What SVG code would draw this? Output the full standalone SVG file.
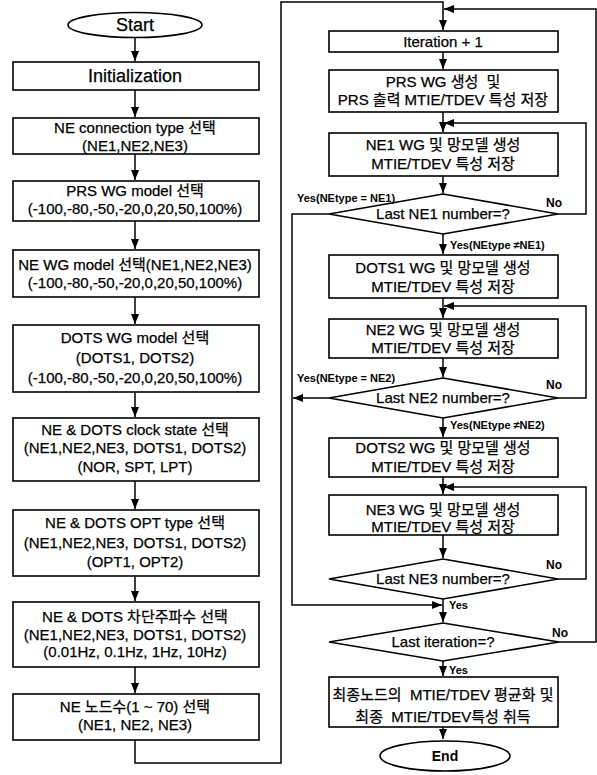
<svg xmlns="http://www.w3.org/2000/svg" width="597" height="775" viewBox="0 0 597 775">
<style>
.box{fill:#fff;stroke:#000;stroke-width:1.6}
.ln{fill:none;stroke:#000;stroke-width:1.5}
text{font-family:"Liberation Sans","Noto Sans CJK KR",sans-serif;font-size:15px;fill:#000;stroke:#000;stroke-width:0.25;text-anchor:middle}
.lb{font-size:11px;font-weight:bold;text-anchor:start;stroke:none}
.big{font-size:18px}
</style>
<defs>
<marker id="ah" viewBox="0 0 10 8" refX="10" refY="4" markerWidth="10" markerHeight="8" markerUnits="userSpaceOnUse" orient="auto">
<path d="M0,0 L10,4 L0,8 Z" fill="#000"/>
</marker>
</defs>

<g id="connectors">
<path class="ln" d="M135,38 V61" marker-end="url(#ah)"/>
<path class="ln" d="M135,90 V117" marker-end="url(#ah)"/>
<path class="ln" d="M135,154 V180" marker-end="url(#ah)"/>
<path class="ln" d="M135,221 V249" marker-end="url(#ah)"/>
<path class="ln" d="M135,297 V324" marker-end="url(#ah)"/>
<path class="ln" d="M135,392 V417" marker-end="url(#ah)"/>
<path class="ln" d="M135,481 V509" marker-end="url(#ah)"/>
<path class="ln" d="M135,576 V601" marker-end="url(#ah)"/>
<path class="ln" d="M135,667 V693" marker-end="url(#ah)"/>
<path class="ln" d="M135,740 V763 H281 V2 H443 V30" marker-end="url(#ah)"/>
<path class="ln" d="M443,52 V69" marker-end="url(#ah)"/>
<path class="ln" d="M443,112 V132" marker-end="url(#ah)"/>
<path class="ln" d="M443,176 V193" marker-end="url(#ah)"/>
<path class="ln" d="M443,234 V254" marker-end="url(#ah)"/>
<path class="ln" d="M443,298 V318" marker-end="url(#ah)"/>
<path class="ln" d="M443,358 V377" marker-end="url(#ah)"/>
<path class="ln" d="M443,418 V437" marker-end="url(#ah)"/>
<path class="ln" d="M443,477 V494" marker-end="url(#ah)"/>
<path class="ln" d="M443,535 V558" marker-end="url(#ah)"/>
<path class="ln" d="M443,599 V622" marker-end="url(#ah)"/>
<path class="ln" d="M443,661 V676" marker-end="url(#ah)"/>
<path class="ln" d="M443,727 V739" marker-end="url(#ah)"/>
<path class="ln" d="M558,214 H586 V123 H444" marker-end="url(#ah)"/>
<path class="ln" d="M558,398 H586 V306 H444" marker-end="url(#ah)"/>
<path class="ln" d="M558,579 H586 V487 H444" marker-end="url(#ah)"/>
<path class="ln" d="M559,642 H596 V9 H444" marker-end="url(#ah)"/>
<path class="ln" d="M329,214 H292 V605 H442" marker-end="url(#ah)"/>
<path class="ln" d="M329,398 H293" marker-end="url(#ah)"/>
</g>

<g id="start"><ellipse class="box" cx="135" cy="25" rx="67" ry="12.5"/><text class="big" x="135" y="31">Start</text></g>
<g id="init"><rect class="box" x="13" y="62" width="246" height="28"/><text class="big" x="135" y="82">Initialization</text></g>
<g id="ne-conn"><rect class="box" x="13" y="118" width="246" height="36"/><text x="135" y="133">NE connection type 선택</text><text x="135" y="151">(NE1,NE2,NE3)</text></g>
<g id="prs-wg-model"><rect class="box" x="13" y="181" width="246" height="40"/><text x="135" y="196">PRS WG model 선택</text><text x="135" y="214">(-100,-80,-50,-20,0,20,50,100%)</text></g>
<g id="ne-wg-model"><rect class="box" x="13" y="250" width="246" height="47"/><text x="135" y="270">NE WG model 선택(NE1,NE2,NE3)</text><text x="135" y="288">(-100,-80,-50,-20,0,20,50,100%)</text></g>
<g id="dots-wg-model"><rect class="box" x="13" y="325" width="246" height="67"/><text x="135" y="343">DOTS WG model 선택</text><text x="135" y="363">(DOTS1, DOTS2)</text><text x="135" y="383">(-100,-80,-50,-20,0,20,50,100%)</text></g>
<g id="clock-state"><rect class="box" x="13" y="418" width="246" height="63"/><text x="135" y="435">NE &amp; DOTS clock state 선택</text><text x="135" y="453">(NE1,NE2,NE3, DOTS1, DOTS2)</text><text x="135" y="472">(NOR, SPT, LPT)</text></g>
<g id="opt-type"><rect class="box" x="13" y="510" width="246" height="66"/><text x="135" y="528">NE &amp; DOTS OPT type 선택</text><text x="135" y="548">(NE1,NE2,NE3, DOTS1, DOTS2)</text><text x="135" y="567">(OPT1, OPT2)</text></g>
<g id="cutoff"><rect class="box" x="13" y="602" width="246" height="65"/><text x="135" y="622">NE &amp; DOTS 차단주파수 선택</text><text x="135" y="640">(NE1,NE2,NE3, DOTS1, DOTS2)</text><text x="135" y="657">(0.01Hz, 0.1Hz, 1Hz, 10Hz)</text></g>
<g id="node-count"><rect class="box" x="13" y="694" width="246" height="46"/><text x="135" y="712">NE 노드수(1 ~ 70) 선택</text><text x="135" y="730">(NE1, NE2, NE3)</text></g>

<g id="iteration"><rect class="box" x="329" y="31" width="229" height="21"/><text x="443" y="47">Iteration + 1</text></g>
<g id="prs-wg"><rect class="box" x="329" y="70" width="229" height="42"/><text x="443" y="87" xml:space="preserve">PRS WG 생성  및</text><text x="443" y="105">PRS 출력 MTIE/TDEV 특성 저장</text></g>
<g id="ne1-wg"><rect class="box" x="329" y="133" width="229" height="43"/><text x="443" y="150">NE1 WG 및 망모델 생성</text><text x="443" y="169">MTIE/TDEV 특성 저장</text></g>
<g id="dec-ne1"><polygon class="box" points="443,194 558,214 443,234 329,214"/><text x="443" y="219">Last NE1 number=?</text></g>
<g id="dots1-wg"><rect class="box" x="329" y="255" width="229" height="43"/><text x="443" y="273">DOTS1 WG 및 망모델 생성</text><text x="443" y="292">MTIE/TDEV 특성 저장</text></g>
<g id="ne2-wg"><rect class="box" x="329" y="319" width="229" height="39"/><text x="443" y="335">NE2 WG 및 망모델 생성</text><text x="443" y="353">MTIE/TDEV 특성 저장</text></g>
<g id="dec-ne2"><polygon class="box" points="443,378 558,398 443,418 329,398"/><text x="443" y="403">Last NE2 number=?</text></g>
<g id="dots2-wg"><rect class="box" x="329" y="438" width="229" height="39"/><text x="443" y="453">DOTS2 WG 및 망모델 생성</text><text x="443" y="472">MTIE/TDEV 특성 저장</text></g>
<g id="ne3-wg"><rect class="box" x="329" y="495" width="229" height="40"/><text x="443" y="515">NE3 WG 및 망모델 생성</text><text x="443" y="532">MTIE/TDEV 특성 저장</text></g>
<g id="dec-ne3"><polygon class="box" points="443,559 558,579 443,599 329,579"/><text x="443" y="584">Last NE3 number=?</text></g>
<g id="dec-iter"><polygon class="box" points="443,623 559,642 443,661 329,642"/><text x="443" y="647">Last iteration=?</text></g>
<g id="final"><rect class="box" x="329" y="677" width="229" height="50"/><text x="443" y="700" xml:space="preserve">최종노드의  MTIE/TDEV 평균화 및</text><text x="443" y="722" xml:space="preserve">최종  MTIE/TDEV특성 취득</text></g>
<g id="end"><ellipse class="box" cx="445" cy="756" rx="65" ry="15"/><text x="445" y="761" style="font-weight:bold;font-size:14px;stroke:none">End</text></g>

<g id="labels">
<text class="lb" x="297" y="202">Yes(NEtype = NE1)</text>
<text class="lb" x="546" y="207" style="font-size:12px">No</text>
<text class="lb" x="450" y="249">Yes(NEtype ≠NE1)</text>
<text class="lb" x="297" y="382">Yes(NEtype = NE2)</text>
<text class="lb" x="546" y="389" style="font-size:12px">No</text>
<text class="lb" x="450" y="429">Yes(NEtype ≠NE2)</text>
<text class="lb" x="546" y="569" style="font-size:12px">No</text>
<text class="lb" x="449" y="609">Yes</text>
<text class="lb" x="552" y="637" style="font-size:12px">No</text>
<text class="lb" x="449" y="674">Yes</text>
</g>
</svg>
